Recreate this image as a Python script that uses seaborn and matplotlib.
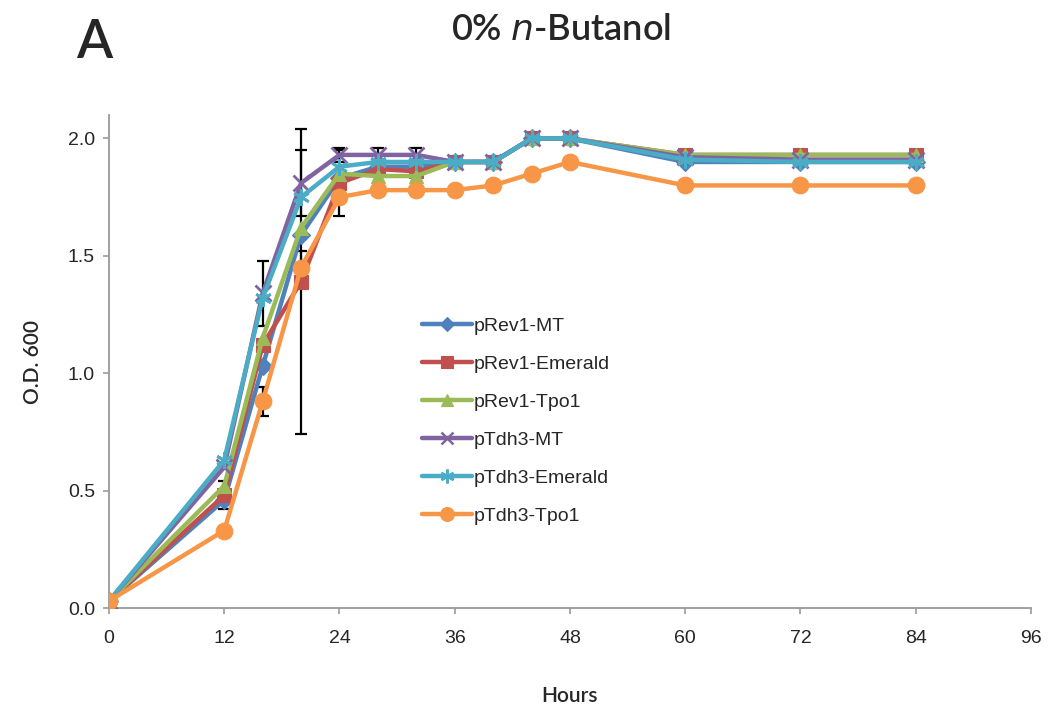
import numpy as np
import pandas as pd
import matplotlib
matplotlib.use("Agg")
import matplotlib.pyplot as plt
import seaborn as sns

hours = [0, 12, 16, 20, 24, 28, 32, 36, 40, 44, 48, 60, 72, 84]
series_names = ["pRev1-MT", "pRev1-Emerald", "pRev1-Tpo1", "pTdh3-MT", "pTdh3-Emerald", "pTdh3-Tpo1"]

rev1_mt      = [0.03, 0.46, 1.03, 1.59, 1.83, 1.88, 1.88, 1.90, 1.90, 2.00, 2.00, 1.90, 1.90, 1.90]
rev1_emerald = [0.03, 0.48, 1.12, 1.39, 1.81, 1.87, 1.86, 1.90, 1.90, 2.00, 2.00, 1.93, 1.93, 1.93]
rev1_tpo1    = [0.03, 0.52, 1.15, 1.62, 1.85, 1.84, 1.84, 1.90, 1.90, 2.00, 2.00, 1.93, 1.93, 1.93]
tdh3_mt      = [0.03, 0.60, 1.34, 1.81, 1.93, 1.93, 1.93, 1.90, 1.90, 2.00, 2.00, 1.92, 1.91, 1.91]
tdh3_emerald = [0.03, 0.63, 1.32, 1.75, 1.88, 1.90, 1.90, 1.90, 1.90, 2.00, 2.00, 1.91, 1.90, 1.90]
tdh3_tpo1    = [0.03, 0.33, 0.88, 1.45, 1.75, 1.78, 1.78, 1.78, 1.80, 1.85, 1.90, 1.80, 1.80, 1.80]

err_rev1_emerald = [0.0, 0.06, 0.0, 0.65, 0.14, 0.0, 0.0, 0.0, 0.0, 0.0, 0.0, 0.02, 0.02, 0.02]
err_tdh3_mt      = [0.0, 0.0, 0.14, 0.14, 0.03, 0.03, 0.03, 0.0, 0.0, 0.0, 0.0, 0.0, 0.0, 0.0]
err_tdh3_tpo1    = [0.0, 0.0, 0.06, 0.07, 0.0, 0.0, 0.0, 0.0, 0.0, 0.0, 0.0, 0.0, 0.0, 0.0]

x_ticks = [0, 12, 24, 36, 48, 60, 72, 84, 96]
y_ticks = [0.0, 0.5, 1.0, 1.5, 2.0]

values = [rev1_mt, rev1_emerald, rev1_tpo1, tdh3_mt, tdh3_emerald, tdh3_tpo1]
df = pd.DataFrame({
    "Hours": np.tile(hours, len(series_names)),
    "OD": np.concatenate(values),
    "Strain": np.repeat(series_names, len(hours)),
})

colors = ["#4F81BD", "#C0504D", "#9BBB59", "#8064A2", "#4BACC6", "#F79646"]
markers = dict(zip(series_names, ["D", "s", "^", "x", (6, 2, 0), "o"]))
msizes = [9, 10, 10, 11, 12, 12]

sns.set_style("white")
plt.rcParams["font.family"] = ["Liberation Sans", "DejaVu Sans"]

fig = plt.figure(figsize=(10.49, 7.17), dpi=100)
ax = fig.add_axes([0.1039, 0.152, 0.8789, 0.6876])

for name, err, vals in [("pRev1-Emerald", err_rev1_emerald, rev1_emerald),
                        ("pTdh3-MT", err_tdh3_mt, tdh3_mt),
                        ("pTdh3-Tpo1", err_tdh3_tpo1, tdh3_tpo1)]:
    e = np.array(err)
    m = e > 0
    ax.errorbar(np.array(hours)[m], np.array(vals)[m], yerr=e[m], fmt="none",
                ecolor="black", elinewidth=1.6, capsize=4, capthick=1.6, zorder=1)

for i, name in enumerate(series_names):
    sub = df[df["Strain"] == name]
    sns.lineplot(data=sub, x="Hours", y="OD", color=colors[i], marker=markers[name],
                 markersize=msizes[i], markeredgecolor=colors[i],
                 markeredgewidth=2.0 if name in ("pTdh3-MT", "pTdh3-Emerald") else 0.8,
                 linewidth=3.2, ax=ax, zorder=2 + i, legend=False)

ax.set_xlim(0, 96)
ax.set_ylim(0, 2.1)
ax.set_xticks(x_ticks)
ax.set_yticks(y_ticks)
ax.set_yticklabels([f"{v:.1f}" for v in y_ticks])
ax.tick_params(axis="both", labelsize=14, length=4, width=1.2, color="#999999",
               direction="out", left=True, bottom=True)
ax.tick_params(axis="x", pad=12)
ax.tick_params(axis="y", pad=6)
for s in ["top", "right"]:
    ax.spines[s].set_visible(False)
for s in ["left", "bottom"]:
    ax.spines[s].set_color("#999999")
    ax.spines[s].set_linewidth(1.3)

ax.set_xlabel("Hours", fontsize=15, family=["Lato", "DejaVu Sans"], labelpad=28, fontweight=600)
ax.set_ylabel("O.D. 600", fontsize=15, family=["Lato", "DejaVu Sans"], labelpad=18, fontweight=600)

handles = [plt.Line2D([], [], color=colors[i], marker=markers[n], markersize=msizes[i] - 2,
                      markeredgecolor=colors[i], markeredgewidth=1.8 if n in ("pTdh3-MT", "pTdh3-Emerald") else 0.8,
                      linewidth=3.2) for i, n in enumerate(series_names)]
ax.legend(handles, series_names, loc="upper left", bbox_to_anchor=(0.32, 0.625), frameon=False,
          fontsize=14, handlelength=2.6, handletextpad=0.1, labelspacing=1.05)

fig.text(0.535, 0.982, "0% $\\it{n}$-Butanol", ha="center", va="top", fontsize=26,
         family=["Lato", "DejaVu Sans"], fontweight=600)
fig.text(0.073, 0.975, "A", ha="left", va="top", fontsize=38, family=["Lato", "DejaVu Sans"],
         fontweight=600)

fig.savefig("out.png", dpi=100)
